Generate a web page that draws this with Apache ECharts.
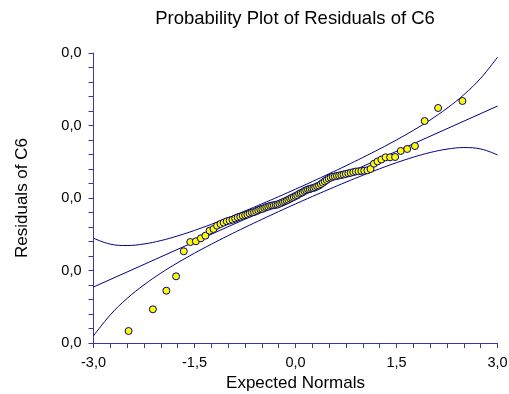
<!DOCTYPE html>
<html>
<head>
<meta charset="utf-8">
<script src="https://cdn.jsdelivr.net/npm/echarts@6/dist/echarts.min.js"></script>
<style>
  html, body { margin: 0; padding: 0; background: #ffffff; }
  #chart { width: 509px; height: 394px; }
</style>
</head>
<body>
<div id="chart"></div>
<script>
// Expected normal scores (x) of the 95 sorted residuals
const expectedNormals = [
  -2.479, -2.118, -1.918, -1.774, -1.659, -1.563, -1.479, -1.405, -1.338, -1.276,
  -1.218, -1.165, -1.114, -1.067, -1.021, -0.978, -0.936, -0.896, -0.858, -0.820,
  -0.784, -0.748, -0.714, -0.681, -0.648, -0.616, -0.584, -0.553, -0.523, -0.493,
  -0.463, -0.434, -0.405, -0.377, -0.349, -0.321, -0.293, -0.266, -0.239, -0.212,
  -0.185, -0.159, -0.132, -0.106, -0.079, -0.053, -0.026, 0.000, 0.026, 0.053,
  0.079, 0.106, 0.132, 0.159, 0.185, 0.212, 0.239, 0.266, 0.293, 0.321,
  0.349, 0.377, 0.405, 0.434, 0.463, 0.493, 0.523, 0.553, 0.584, 0.616,
  0.648, 0.681, 0.714, 0.748, 0.784, 0.820, 0.858, 0.896, 0.936, 0.978,
  1.021, 1.067, 1.114, 1.165, 1.218, 1.276, 1.338, 1.405, 1.479, 1.563,
  1.659, 1.774, 1.918, 2.118, 2.479
];

// Sorted residuals of C6
const residuals = [
  -0.03669, -0.03070, -0.02557, -0.02160, -0.01470, -0.01214, -0.01194, -0.01112, -0.01040, -0.00902,
  -0.00855, -0.00764, -0.00717, -0.00681, -0.00643, -0.00621, -0.00599, -0.00566, -0.00535, -0.00516,
  -0.00488, -0.00472, -0.00455, -0.00428, -0.00403, -0.00389, -0.00361, -0.00337, -0.00312, -0.00301,
  -0.00276, -0.00251, -0.00240, -0.00218, -0.00207, -0.00199, -0.00188, -0.00179, -0.00157, -0.00135,
  -0.00113, -0.00091, -0.00069, -0.00047, -0.00017, 0.00006, 0.00028, 0.00055, 0.00077, 0.00113,
  0.00135, 0.00157, 0.00193, 0.00215, 0.00237, 0.00246, 0.00268, 0.00276, 0.00298, 0.00323,
  0.00345, 0.00383, 0.00419, 0.00458, 0.00497, 0.00535, 0.00560, 0.00585, 0.00596, 0.00610,
  0.00621, 0.00634, 0.00648, 0.00665, 0.00681, 0.00695, 0.00714, 0.00731, 0.00737, 0.00745,
  0.00753, 0.00764, 0.00800, 0.00946, 0.01007, 0.01062, 0.01123, 0.01123, 0.01131, 0.01297,
  0.01352, 0.01434, 0.02124, 0.02483, 0.02676
];

// Reference line through the residuals
const fitX = [-3, 3];
const fitY = [-0.02456, 0.02536];

// Confidence band around the reference line
const bandX = [-3, -2.75, -2.5, -2.25, -2, -1.75, -1.5, -1.25, -1, -0.75, -0.5, -0.25,
  0, 0.25, 0.5, 0.75, 1, 1.25, 1.5, 1.75, 2, 2.25, 2.5, 2.75, 3];
const bandUpper = [-0.01108, -0.01273, -0.01311, -0.01268, -0.01175, -0.01046, -0.00894, -0.00726,
  -0.00546, -0.00358, -0.00162, 0.00038, 0.00244, 0.00454, 0.00670, 0.00890, 0.01118, 0.01354,
  0.01602, 0.01866, 0.02153, 0.02476, 0.02849, 0.03303, 0.03884];
const bandLower = [-0.03804, -0.03223, -0.02769, -0.02396, -0.02073, -0.01786, -0.01522, -0.01274,
  -0.01038, -0.00810, -0.00590, -0.00374, -0.00164, 0.00042, 0.00242, 0.00438, 0.00626, 0.00806,
  0.00974, 0.01126, 0.01255, 0.01348, 0.01391, 0.01353, 0.01188];

// Axis ticks
const xTicks = { min: -3, max: 3, step: 1.5, minorSplits: 6 };
const yTicks = { min: -0.04, max: 0.04, step: 0.02, minorSplits: 5 };

const zip = (xs, ys) => xs.map((x, i) => [x, ys[i]]);
const comma = s => s.replace('.', ',');

const NAVY = '#000080';
const AXIS = '#3a3a9c';
const FONT = 'Liberation Sans, Arial, sans-serif';

const chart = echarts.init(document.getElementById('chart'), null, { renderer: 'canvas' });

const axisCommon = {
  type: 'value',
  axisLine: { show: true, onZero: false, lineStyle: { color: AXIS, width: 1 } },
  axisTick: { show: true, inside: false, length: 5, lineStyle: { color: AXIS } },
  minorTick: { show: true, length: 5, lineStyle: { color: AXIS } },
  splitLine: { show: false },
  minorSplitLine: { show: false },
  nameLocation: 'middle',
  nameTextStyle: { color: '#000000', fontFamily: FONT, fontSize: 17 }
};

chart.setOption({
  animation: false,
  backgroundColor: '#ffffff',
  title: {
    text: 'Probability Plot of Residuals of C6',
    left: 290,
    textAlign: 'center',
    top: 4,
    textStyle: { color: '#000000', fontFamily: FONT, fontSize: 18.5, fontWeight: 'normal' }
  },
  grid: {
    left: 93.5, right: 11.5, top: 53, bottom: 51,
    containLabel: false, outerBoundsMode: 'none'
  },
  xAxis: Object.assign({}, axisCommon, {
    min: xTicks.min, max: xTicks.max, interval: xTicks.step,
    minorTick: Object.assign({}, axisCommon.minorTick, { splitNumber: xTicks.minorSplits }),
    name: 'Expected Normals',
    nameGap: 30,
    axisLabel: {
      color: '#000000', fontFamily: FONT, fontSize: 14.5, margin: 12,
      formatter: v => comma(v.toFixed(1))
    }
  }),
  yAxis: Object.assign({}, axisCommon, {
    min: yTicks.min, max: yTicks.max, interval: yTicks.step,
    minorTick: Object.assign({}, axisCommon.minorTick, { splitNumber: yTicks.minorSplits }),
    name: 'Residuals of C6',
    nameGap: 63,
    axisLabel: {
      color: '#000000', fontFamily: FONT, fontSize: 14.5, margin: 12,
      formatter: v => comma((Math.round(v * 10) / 10).toFixed(1))
    }
  }),
  series: [
    {
      type: 'line', data: zip(fitX, fitY), symbol: 'none', silent: true,
      lineStyle: { color: NAVY, width: 1 }, z: 2
    },
    {
      type: 'line', data: zip(bandX, bandUpper), symbol: 'none', smooth: 0.4, silent: true,
      lineStyle: { color: NAVY, width: 1 }, z: 2
    },
    {
      type: 'line', data: zip(bandX, bandLower), symbol: 'none', smooth: 0.4, silent: true,
      lineStyle: { color: NAVY, width: 1 }, z: 2
    },
    {
      type: 'scatter', data: zip(expectedNormals, residuals), symbol: 'circle', symbolSize: 7,
      itemStyle: { color: '#ffff00', borderColor: NAVY, borderWidth: 1, opacity: 1 }, z: 3
    }
  ]
});
</script>
</body>
</html>
